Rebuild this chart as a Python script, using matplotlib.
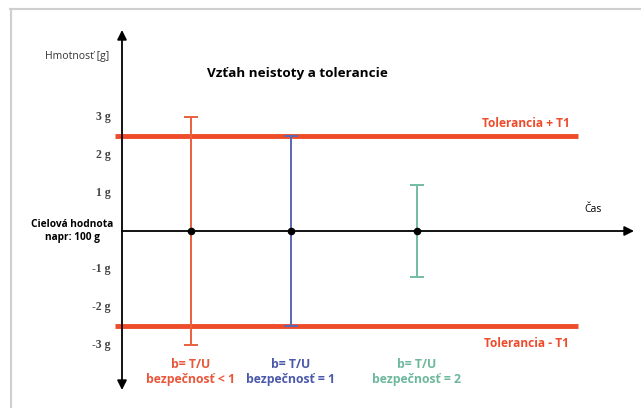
import matplotlib.pyplot as plt
from matplotlib.lines import Line2D

# data
time_pos = [0.69, 1.69, 2.95]
target = [0, 0, 0]
uncert = [3.0, 2.5, 1.2]
bar_colors = ['#E9603F', '#5A67B3', '#74BCA4']
text_colors = ['#E9573A', '#4B59AB', '#6DB89D']
labels_b = ['b= T/U\nbezpečnosť < 1', 'b= T/U\nbezpečnosť = 1', 'b= T/U\nbezpečnosť = 2']
tol = 2.5
tick_vals = [3, 2, 1, -1, -2, -3]
tick_text = ['3 g', '2 g', '1 g', '-1 g', '-2 g', '-3 g']

fig = plt.figure(figsize=(6.41, 4.08), dpi=100)
ax = fig.add_axes([0, 0, 1, 1])
# 100 px per time unit, 38 px per gram, origin at (122, 231)
ax.set_xlim(-1.22, 5.19)
ax.set_ylim(-177 / 38, 231 / 38)
ax.axis('off')

# gray frame (top and left)
fig.add_artist(Line2D([10 / 641, 1], [1 - 8.5 / 408] * 2, color='#cfcfcf', lw=1.5))
fig.add_artist(Line2D([10.5 / 641] * 2, [0, 1 - 8.5 / 408], color='#cfcfcf', lw=1.5))

# axes arrows
arr = dict(arrowstyle='-|>', color='black', lw=1.3, mutation_scale=14, shrinkA=0, shrinkB=0)
ax.annotate('', xy=(0, 201 / 38), xytext=(0, 0), arrowprops=arr)
ax.annotate('', xy=(0, -159 / 38), xytext=(0, 0), arrowprops=arr)
ax.annotate('', xy=(5.12, 0), xytext=(0, 0), arrowprops=arr)

# tolerance lines
ax.plot([-0.07, 4.56], [tol, tol], color='#EE4B2B', lw=3.5, solid_capstyle='butt')
ax.plot([-0.07, 4.56], [-tol, -tol], color='#EE4B2B', lw=3.5, solid_capstyle='butt')

# error bars
for x, y, u, c in zip(time_pos, target, uncert, bar_colors):
    ax.errorbar(x, y, yerr=u, color=c, lw=1.4, capsize=5, capthick=1.4, zorder=3)
ax.scatter(time_pos, target, color='black', s=20, zorder=5)

# tick labels
for v, t in zip(tick_vals, tick_text):
    ax.text(-0.11, v, t, ha='right', va='center', fontsize=8.5,
            family='Liberation Serif', color='#444444', fontweight='bold')

sans = ['Open Sans', 'DejaVu Sans']
ax.text(-0.45, 175 / 38, 'Hmotnosť [g]', ha='center', va='center', fontsize=7.5,
        family=sans, color='#333333')
ax.text(1.75, 157 / 38, 'Vzťah neistoty a tolerancie', ha='center', va='center',
        fontsize=9.7, fontweight='bold', family=sans)
ax.text(-0.5, 0, 'Cielová hodnota\nnapr: 100 g', ha='center', va='center',
        fontsize=7.3, fontweight='bold', family=sans, linespacing=1.35)
ax.text(4.71, 22 / 38, 'Čas', ha='center', va='center', fontsize=7.5, family=sans)
ax.text(4.04, tol + 0.34, 'Tolerancia + T1', ha='center', va='center', fontsize=8.6,
        fontweight='bold', family=sans, color='#EE4B2B')
ax.text(4.04, -tol - 0.46, 'Tolerancia - T1', ha='center', va='center', fontsize=8.6,
        fontweight='bold', family=sans, color='#EE4B2B')
for x, t, c in zip(time_pos, labels_b, text_colors):
    ax.text(x, -141 / 38, t, ha='center', va='center', fontsize=8.8,
            fontweight='bold', family=sans, color=c, linespacing=1.25)

fig.savefig('out.png', dpi=100)
